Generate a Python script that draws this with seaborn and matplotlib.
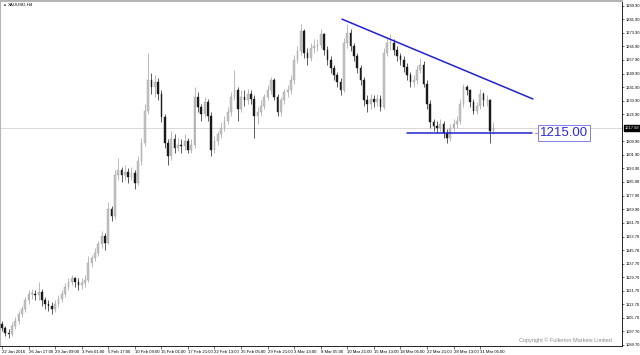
import numpy as np
import pandas as pd
import matplotlib
matplotlib.use("Agg")
import matplotlib.pyplot as plt
import seaborn as sns

# ---------------- data (XAUUSD, H4; one candle per 8h slot) -------------
open_first = 1102
close_vals = [1100, 1097, 1096, 1101, 1104, 1108, 1111, 1116, 1120, 1120,
              1119, 1121, 1116, 1114, 1113, 1111, 1114, 1117, 1120, 1124,
              1127, 1129, 1127, 1125, 1126, 1128, 1138, 1141, 1144, 1149,
              1154, 1150, 1170, 1166, 1190, 1193, 1190, 1192, 1189, 1191,
              1185, 1198, 1209, 1228, 1246, 1242, 1245, 1238, 1224, 1209,
              1201, 1211, 1206, 1208, 1207, 1210, 1205, 1208, 1236, 1230,
              1226, 1233, 1225, 1205, 1210, 1214, 1218, 1222, 1227, 1236,
              1240, 1229, 1236, 1234, 1238, 1235, 1225, 1227, 1231, 1236,
              1240, 1246, 1236, 1227, 1234, 1239, 1240, 1246, 1258, 1263,
              1275, 1262, 1259, 1265, 1266, 1267, 1273, 1264, 1258, 1253,
              1249, 1245, 1240, 1268, 1274, 1266, 1260, 1253, 1246, 1234,
              1232, 1235, 1233, 1235, 1230, 1262, 1268, 1268, 1264, 1260,
              1258, 1254, 1249, 1245, 1246, 1252, 1255, 1244, 1232, 1221,
              1219, 1218, 1220, 1215, 1212, 1218, 1220, 1222, 1232, 1242,
              1240, 1233, 1228, 1231, 1238, 1234, 1234, 1216, 1217.68]
high_vals = [1104, 1101, 1099, 1103, 1106, 1110, 1113, 1118, 1122, 1123,
             1122, 1127, 1123, 1118, 1116, 1115, 1116, 1119, 1122, 1126,
             1129, 1131, 1130, 1129, 1129, 1131, 1142, 1143, 1147, 1151,
             1157, 1156, 1174, 1172, 1193, 1200, 1195, 1196, 1194, 1195,
             1193, 1201, 1212, 1232, 1262, 1250, 1249, 1247, 1240, 1226,
             1211, 1216, 1214, 1212, 1211, 1214, 1212, 1211, 1242, 1239,
             1232, 1236, 1235, 1227, 1213, 1216, 1221, 1225, 1230, 1239,
             1252, 1242, 1240, 1240, 1241, 1240, 1237, 1230, 1234, 1238,
             1243, 1248, 1247, 1238, 1236, 1241, 1243, 1249, 1261, 1266,
             1279, 1276, 1265, 1268, 1270, 1270, 1276, 1274, 1266, 1260,
             1255, 1251, 1247, 1271, 1279, 1276, 1268, 1262, 1255, 1248,
             1237, 1238, 1237, 1238, 1237, 1265, 1271, 1273, 1270, 1266,
             1262, 1260, 1256, 1251, 1249, 1255, 1259, 1257, 1246, 1234,
             1223, 1222, 1223, 1222, 1217, 1220, 1223, 1225, 1235, 1244,
             1243, 1241, 1235, 1233, 1241, 1239, 1237, 1235, 1221]
low_vals = [1098, 1095, 1094, 1095, 1099, 1102, 1106, 1109, 1114, 1117,
            1116, 1116, 1113, 1111, 1110, 1108, 1109, 1112, 1115, 1118,
            1122, 1125, 1124, 1122, 1123, 1124, 1127, 1136, 1139, 1142,
            1147, 1146, 1149, 1163, 1164, 1187, 1186, 1187, 1185, 1187,
            1182, 1184, 1196, 1207, 1226, 1238, 1236, 1234, 1221, 1206,
            1196, 1199, 1203, 1204, 1203, 1205, 1203, 1203, 1206, 1227,
            1222, 1224, 1222, 1201, 1203, 1208, 1212, 1216, 1220, 1225,
            1234, 1222, 1227, 1231, 1232, 1232, 1212, 1220, 1225, 1229,
            1234, 1238, 1234, 1225, 1225, 1232, 1236, 1238, 1244, 1256,
            1261, 1259, 1255, 1257, 1262, 1263, 1265, 1261, 1255, 1250,
            1246, 1242, 1237, 1239, 1265, 1263, 1257, 1250, 1243, 1231,
            1227, 1229, 1230, 1231, 1228, 1229, 1260, 1264, 1261, 1257,
            1255, 1251, 1246, 1242, 1242, 1244, 1250, 1242, 1229, 1218,
            1216, 1215, 1216, 1212, 1209, 1210, 1216, 1218, 1220, 1230,
            1237, 1230, 1226, 1226, 1229, 1231, 1231, 1209, 1214]

date_labels = ["22 Jan 2016", "26 Jan 17:00", "29 Jan 09:00", "3 Feb 01:00", "5 Feb 17:00",
               "10 Feb 09:00", "15 Feb 01:00", "17 Feb 21:00", "22 Feb 13:00", "25 Feb 05:00",
               "29 Feb 21:00", "3 Mar 13:00", "8 Mar 05:00", "10 Mar 21:00", "15 Mar 13:00",
               "18 Mar 05:00", "22 Mar 21:00", "28 Mar 13:00", "31 Mar 05:00"]
date_label_bars = [0, 8, 16, 24, 32, 40, 48, 56, 64, 72, 80, 88, 96, 104, 112, 120, 128, 136, 144]

price_ticks = [1289.90, 1281.90, 1273.90, 1265.90, 1257.90, 1249.90, 1241.90, 1233.90,
               1225.90, 1209.90, 1201.90, 1193.90, 1185.90, 1177.90, 1169.90,
               1161.70, 1153.70, 1145.70, 1137.70, 1129.70, 1121.70, 1113.70,
               1105.70, 1097.70, 1089.70]

# drawn objects (trend line, support line and its label)
trend_bars = [102.4, 159.9]
trend_prices = [1282.0, 1234.9]
support_bars = [122.0, 159.5]
support_level = 1215.0
support_text = "1215.00"

# ---------------- build frame ----------------
close_arr = np.array(close_vals, dtype=float)
df = pd.DataFrame({
    "bar": np.arange(len(close_arr)),
    "open": np.r_[open_first, close_arr[:-1]],
    "high": high_vals,
    "low": low_vals,
    "close": close_arr,
})

sns.set_theme(style="white")
plt.rcParams["font.family"] = ["Liberation Sans", "DejaVu Sans"]

W, H = 640, 355
fig = plt.figure(figsize=(W / 100, H / 100), dpi=100)
fig.patch.set_facecolor("white")
ax = fig.add_axes([0.0, 9 / H, 622 / W, 345 / H])
ax.set_facecolor("white")

bar_px = 3.32
ax.set_xlim(-2 / bar_px, 620 / bar_px)
ax.set_ylim(1089.1, 1292.7)

last_close = df["close"].iloc[-1]
ax.axhline(last_close, color="#d2d2d2", lw=0.6, zorder=0)

up = df[df["close"] >= df["open"]]
dn = df[df["close"] < df["open"]]
for sub, col, face in ((up, "#a0a0a0", "#c4c4c4"), (dn, "#1a1a1a", "#1a1a1a")):
    ax.vlines(sub["bar"], sub["low"], sub["high"], color=col, lw=0.5, zorder=2)
    body = (sub["close"] - sub["open"]).abs().clip(lower=0.5)
    ax.bar(sub["bar"], body, bottom=np.minimum(sub["open"], sub["close"]),
           width=0.5, color=face, edgecolor=col, linewidth=0.3, zorder=3)

line_col = "#2222cc"
sns.lineplot(x=trend_bars, y=trend_prices, ax=ax, color=line_col, lw=1.1, zorder=4)
sns.lineplot(x=support_bars, y=[support_level, support_level], ax=ax, color=line_col,
             lw=1.1, zorder=4)
# small connector dash between the line end and the price label
ax.plot([support_bars[1] + 0.9, support_bars[1] + 1.6], [support_level, support_level],
        color="#6a6ae6", lw=0.6, zorder=4)
ax.text(support_bars[1] + 2.6, support_level, support_text, color="#2a2ad8", fontsize=9.5,
        va="center", ha="left", zorder=5,
        bbox=dict(facecolor="white", edgecolor="#6a6ae6", lw=0.6, pad=1.3))

# axes styling (MT4 look)
for s in ("top", "left"):
    ax.spines[s].set_color("#b5b5b5")
    ax.spines[s].set_linewidth(1.5)
for s in ("right", "bottom"):
    ax.spines[s].set_color("#000000")
    ax.spines[s].set_linewidth(0.6)

ax.yaxis.tick_right()
ax.set_yticks(price_ticks)
ax.set_yticklabels([f"{v:.2f}" for v in price_ticks], fontsize=2.9)
ax.set_xticks(date_label_bars)
ax.set_xticklabels(date_labels, fontsize=3.1, ha="left")
ax.tick_params(axis="y", direction="out", length=1.6, width=0.4, pad=0.8, colors="black", right=True)
ax.tick_params(axis="x", direction="out", length=2, width=0.4, pad=0.8, colors="black", bottom=True)
ax.set_xlabel("")
ax.set_ylabel("")
ax.grid(False)

ax.text(1.004, last_close, f"{last_close:.2f}", transform=ax.get_yaxis_transform(),
        fontsize=2.9, color="white", ha="left", va="center", zorder=6, clip_on=False,
        bbox=dict(facecolor="black", edgecolor="black", pad=0.5))

fig.text(4 / W, 1 - 5 / H, "\u25aa", fontsize=4, va="center", ha="left", color="black")
fig.text(8 / W, 1 - 5 / H, "XAUUSD,H4", fontsize=3.2, va="center", ha="left", color="black")
fig.text(612 / W, 1 - 340 / H, "Copyright \u00a9 Fullerton Markets Limited", fontsize=4,
         ha="right", va="center", color="#8a8a8a")

fig.savefig("out.png", dpi=100)
